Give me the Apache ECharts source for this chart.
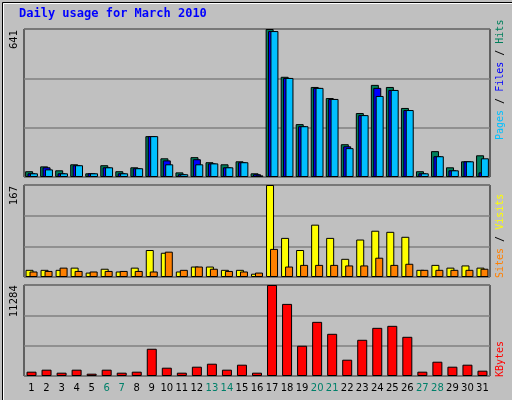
<!DOCTYPE html>
<html><head><meta charset="utf-8">
<script src="https://cdn.jsdelivr.net/npm/echarts@6/dist/echarts.min.js"></script>
<style>html,body{margin:0;padding:0;background:#c0c0c0}#c{width:512px;height:400px}</style>
</head><body><div id="c"></div>
<script>
const days = ['1','2','3','4','5','6','7','8','9','10','11','12','13','14','15','16','17','18','19','20','21','22','23','24','25','26','27','28','29','30','31'];
const weekends = ['6','7','13','14','20','21','27','28'];
const hits  = [25,46,29,55,16,51,25,42,177,81,20,86,64,55,68,16,641,434,229,390,342,142,277,399,390,299,25,112,42,68,94];
const files = [16,42,16,51,16,42,16,38,177,72,12,77,59,42,64,12,632,429,220,386,338,133,268,386,377,290,16,90,29,68,20];
const pages = [16,33,16,51,16,42,16,38,177,55,12,55,59,42,64,7,632,429,220,386,338,125,268,351,377,290,16,90,29,68,81];
const visits= [13,13,13,17,8,15,10,17,49,44,10,19,19,13,13,6,167,71,49,95,71,33,68,84,82,73,13,22,17,21,17];
const sites = [10,11,17,11,10,11,11,11,10,46,13,19,15,11,10,8,51,19,22,22,22,21,21,35,22,24,13,13,13,13,15];
const kbytes= [536,783,412,783,288,783,412,536,3378,1030,412,1154,1524,783,1401,412,11284,8940,3750,6715,5232,2019,4490,5973,6220,4860,536,1771,1154,1401,660];
const maxes = [641,167,11284];

const tops=[29,185,285], hs=[148,92,91];
const grids = tops.map((t,i)=>({left:24,right:22,top:t,height:hs[i],show:true,backgroundColor:'#c0c0c0',borderColor:'#000',borderWidth:1}));
const xAxes = [0,1,2].map(i=>({type:'category',gridIndex:i,data:days,axisLine:{show:false},axisTick:{show:false},
  axisLabel:{show:i===2,fontFamily:'DejaVu Sans',fontSize:10,margin:7,interval:0,
    color:(v)=>weekends.includes(v)?'#00806a':'#000'}}));
const yAxes = [0,1,2].map(i=>({type:'value',gridIndex:i,min:0,max:maxes[i],interval:maxes[i]/3,
  axisLabel:{show:false},axisLine:{show:false},axisTick:{show:false},splitLine:{lineStyle:{color:'#808080',width:1.5}}}));
const bs = {borderColor:'#000',borderWidth:1};
const series = [
 {type:'bar',xAxisIndex:0,yAxisIndex:0,data:hits,barWidth:8,barGap:'-70%',itemStyle:{color:'#00805c',...bs}},
 {type:'bar',xAxisIndex:0,yAxisIndex:0,data:files,barWidth:8,barGap:'-70%',itemStyle:{color:'#0000ff',...bs}},
 {type:'bar',xAxisIndex:0,yAxisIndex:0,data:pages,barWidth:8,barGap:'-70%',itemStyle:{color:'#00c0ff',...bs}},
 {type:'bar',xAxisIndex:1,yAxisIndex:1,data:visits,barWidth:8,barGap:'-50%',itemStyle:{color:'#ffff00',...bs}},
 {type:'bar',xAxisIndex:1,yAxisIndex:1,data:sites,barWidth:8,barGap:'-50%',itemStyle:{color:'#ff8000',...bs}},
 {type:'bar',xAxisIndex:2,yAxisIndex:2,data:kbytes,barWidth:10,itemStyle:{color:'#ff0000',...bs}}
];
const mono='DejaVu Sans Mono';
const f='10px '+mono;
const graphic=[
 {type:'rect',left:0,top:0,shape:{width:511,height:399},style:{fill:'none',stroke:'#000',lineWidth:1}},
 {type:'rect',left:1,top:1,shape:{width:509,height:397},style:{fill:'none',stroke:'#fff',lineWidth:1}},
 {type:'text',left:19,top:8,style:{text:'Daily usage for March 2010',fill:'#0000ff',font:'bold 12px '+mono}},
 ...maxes.map((m,i)=>({type:'text',x:9,y:tops[i]+String(m).length*6+2,rotation:Math.PI/2,
   style:{text:String(m),fill:'#000',font:'10px DejaVu Sans'}})),
 {type:'text',x:495,y:140,rotation:Math.PI/2,style:{text:'{p|Pages}{k| / }{f|Files}{k| / }{h|Hits}',font:f,
   rich:{p:{fill:'#00c0ff',font:f},k:{fill:'#000',font:f},f:{fill:'#0000ff',font:f},h:{fill:'#00805c',font:f}}}},
 {type:'text',x:495,y:278,rotation:Math.PI/2,style:{text:'{s|Sites}{k| / }{v|Visits}',font:f,
   rich:{s:{fill:'#ff8000',font:f},k:{fill:'#000',font:f},v:{fill:'#ffff00',font:f}}}},
 {type:'text',x:495,y:377,rotation:Math.PI/2,style:{text:'KBytes',fill:'#ff0000',font:f}}
];
const chart=echarts.init(document.getElementById('c'));
chart.setOption({backgroundColor:'#c0c0c0',animation:false,grid:grids,xAxis:xAxes,yAxis:yAxes,series,graphic});
</script></body></html>
